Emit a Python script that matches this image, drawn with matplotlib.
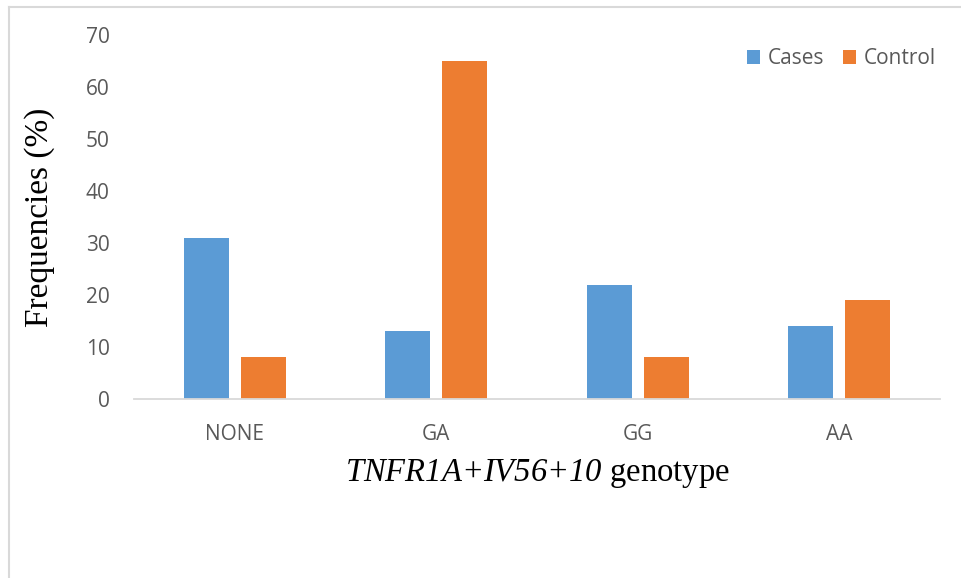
import numpy as np
import matplotlib.pyplot as plt
from matplotlib.lines import Line2D

categories = ['NONE', 'GA', 'GG', 'AA']
cases = [31, 13, 22, 14]
control = [8, 65, 8, 19]

plt.rcParams['mathtext.fontset'] = 'custom'
plt.rcParams['mathtext.rm'] = 'Liberation Serif:italic'
plt.rcParams['mathtext.it'] = 'Liberation Serif:italic'

def main():
    fig = plt.figure(figsize=(9.62, 5.78), dpi=100)
    ax = fig.add_axes([134/962, 1 - 399/578, 806/962, 364/578])

    x = np.arange(len(categories))
    w = 0.223
    ax.bar(x - 0.141, cases, w, color='#5B9BD5', label='Cases')
    ax.bar(x + 0.141, control, w, color='#ED7D31', label='Control')

    ax.set_xlim(-0.5, 3.5)
    ax.set_ylim(0, 70)
    ax.set_yticks(range(0, 71, 10))
    ax.set_xticks(x)
    ax.set_xticklabels(categories)
    for s in ['top', 'right', 'left']:
        ax.spines[s].set_visible(False)
    ax.spines['bottom'].set_color('#D9D9D9')
    ax.spines['bottom'].set_linewidth(1.3)
    ax.tick_params(length=0, labelsize=15, labelcolor='#595959')
    ax.tick_params(axis='x', pad=18)
    ax.tick_params(axis='y', pad=17.5)
    for t in ax.get_xticklabels() + ax.get_yticklabels():
        t.set_fontfamily('Open Sans')

    ax.set_ylabel('Frequencies (%)', fontfamily='Liberation Serif', fontsize=24, labelpad=22)
    ax.set_xlabel(r'$\mathrm{TNFR1A{+}IV56{+}10}$ genotype', fontfamily='Liberation Serif',
                  fontsize=23.5, labelpad=9)

    leg = ax.legend(loc='upper right', ncol=2, frameon=False, handlelength=0.65,
                    handleheight=0.65, handletextpad=0.35, columnspacing=0.9,
                    bbox_to_anchor=(1.018, 1.015), prop={'family': 'Open Sans', 'size': 15})
    for t in leg.get_texts():
        t.set_color('#595959')

    # frame remnants
    fig.add_artist(Line2D([9/962, 1], [1 - 7/578, 1 - 7/578], color='#D9D9D9', lw=1.5))
    fig.add_artist(Line2D([9/962, 9/962], [0, 1 - 7/578], color='#D9D9D9', lw=1.5))

    plt.savefig('out.png', dpi=100)

if __name__ == '__main__':
    main()
